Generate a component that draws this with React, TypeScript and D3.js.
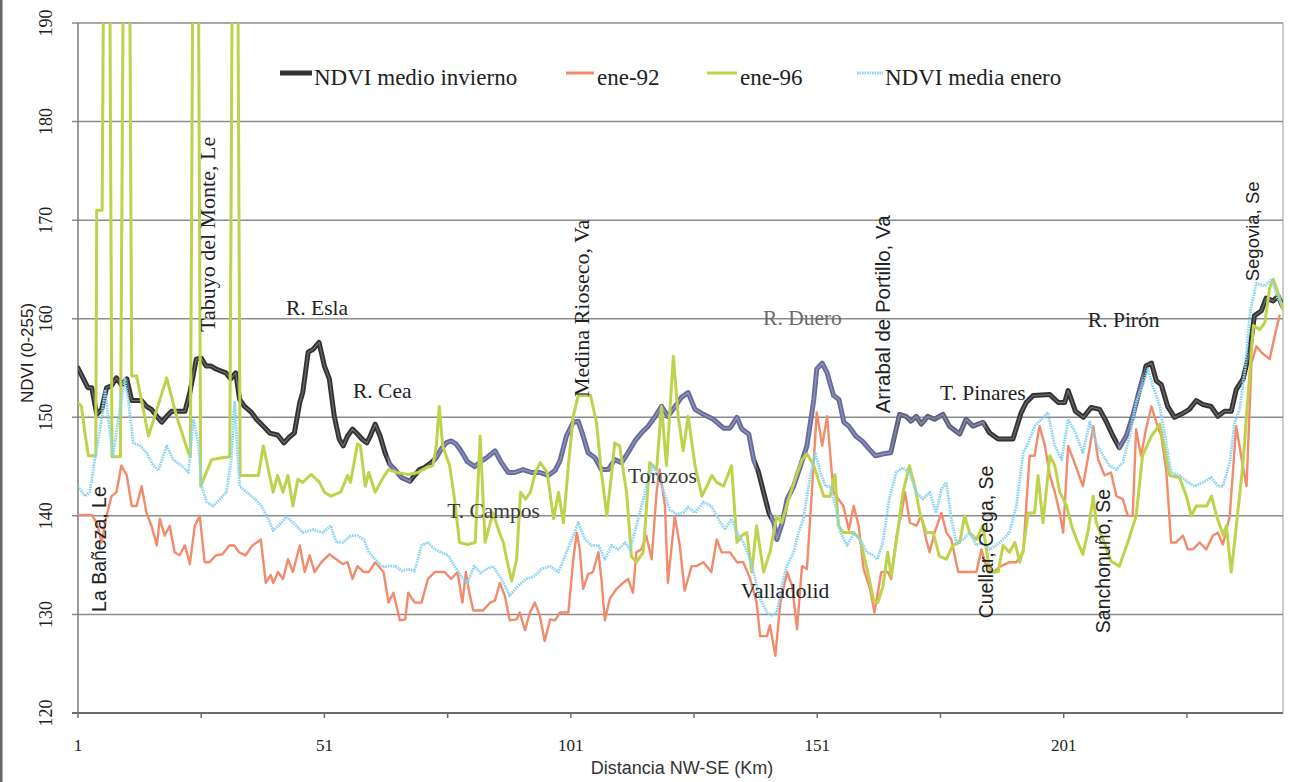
import React from 'react';
import * as d3 from 'd3';

// ---------- DATA (km along the NW-SE transect, NDVI value) ----------
const xTickLabels = [1, 51, 101, 151, 201];
const xTickMarks = [1, 26, 51, 76, 101, 126, 151, 176, 201, 226];
const yTicks = [120, 130, 140, 150, 160, 170, 180, 190];

const seriesNames = ['NDVI medio invierno', 'ene-92', 'ene-96', 'NDVI media enero'];

const medioInvierno: [number, number][] = [
  [1,155],[2,154],[3,153],[3.8,153],[4.8,150.3],[5.8,150.8],[6.8,153],[7.8,153.2],[8.8,154],[9.8,153.3],
  [10.9,153.9],[11.9,151.7],[13.9,151.7],[14.9,151.1],[15.9,150.8],[17,150.1],[18,149.5],[19,150.1],[20,150.6],
  [22.7,150.6],[23.7,152.5],[25,155.9],[26,156],[27,155.2],[28,155.2],[29,154.9],[31,154.5],[32,153.9],[33,154.5],
  [33.8,151.8],[34.8,151.1],[36.2,150.5],[37.2,149.8],[38.6,149.1],[39.9,148.4],[41.5,148.2],[42.8,147.4],
  [43.9,148],[44.9,148.4],[46,151.5],[46.6,152.5],[47.7,156.6],[48.7,156.9],[49.9,157.6],[51,155.2],[52,153.9],
  [53,150.1],[54,147.8],[54.8,147.1],[55.7,148.1],[56.7,148.8],[57.7,148.3],[58.6,147.8],[59.6,147.4],[60.3,148.1],
  [61.3,149.3],[62.3,148.1],[63.3,146.4],[64.3,145.2],[65.3,144.7],[66.6,143.9],[68.3,143.5],[69.3,144.1],
  [70.3,144.7],[71.3,144.9],[72.7,145.4],[73.7,145.9],[74.7,146.8],[75.7,147.4],[76.7,147.6],[77.7,147.3],
  [78.7,146.6],[80,145.5],[81.5,145],[83,145.6],[84.2,146],[85.6,146.6],[86.9,145.4],[88.3,144.4],[89.6,144.4],
  [91.3,144.7],[93,144.4],[94.7,144.4],[96.4,144.1],[97.8,144.6],[98.8,145.6],[100.1,148.1],[101.5,149.5],
  [102.5,149.6],[103.5,148.1],[104.5,146.4],[105.9,145.9],[107.2,144.7],[108.6,144.7],[109.9,145.7],[111.3,145.4],
  [112.6,146.4],[114,147.6],[115.3,148.4],[116.7,149.1],[118,150],[119.4,151.1],[120.7,150.1],[122,151],
  [123.4,152],[124.8,152.5],[126.2,150.8],[127.9,150.3],[129.9,149.8],[132,148.9],[133.3,148.9],[134.7,150],
  [135.7,148.8],[137.1,148.3],[138.1,145.7],[139.1,144.4],[140.1,142.4],[141.2,140.3],[142.2,139.3],[142.8,137.6],
  [143.9,139.3],[144.9,141.7],[146.2,143],[147.6,145.1],[148.9,147.1],[150.3,151.8],[150.9,154.9],[152,155.5],
  [153,154.5],[154.3,152.2],[155.4,151.8],[156.4,149.5],[157.4,149.1],[158.8,148.1],[160.1,147.6],[161.5,146.8],
  [162.8,146.1],[164.5,146.3],[165.9,146.4],[167.7,150.3],[169,150.1],[170,149.6],[171.1,150.1],[172.1,149.3],
  [173.4,150.1],[174.8,149.8],[176.5,150.3],[177.8,149.1],[179.9,148.3],[181.2,149.8],[182.6,149.1],[184.6,149.5],
  [186,148.4],[187.7,147.8],[190.7,147.8],[192.4,150.5],[193.4,151.5],[194.8,152.2],[198.2,152.3],[199.9,151.5],
  [201.2,151.5],[201.9,152.7],[203.4,150.6],[205,150],[206.6,151],[208.3,150.8],[209.6,149.6],[211,148.1],
  [212.3,146.9],[213.7,148.1],[215,150.1],[216.4,152.8],[217.7,155.2],[218.8,155.5],[219.8,153.7],[220.8,153.3],
  [222.1,151.1],[223.5,150],[224.8,150.3],[226.5,150.8],[227.9,151.7],[229.2,151.3],[230.9,151.1],[232.3,150.1],
  [233.6,150.6],[235,150.6],[236,152.8],[237.4,153.9],[238.7,156.6],[239.7,160.3],[241.1,160.8],[242.1,162.1],
  [243.5,161.8],[244.5,162.3],[245.4,161.3],
];

const ene92: [number, number][] = [
  [1,140.1],[3.8,140.1],[4.8,139.3],[5.8,137.3],[6.8,140],[7.8,142],[8.8,142.4],[9.8,145.1],[10.9,144.1],
  [11.9,141],[12.9,141],[13.9,143],[14.9,140.3],[15.9,139],[17,137],[17.6,139.7],[18.6,138],[19.6,139],
  [20.6,136.3],[21.6,136],[22.7,137],[23.7,135.1],[24.7,139],[25.7,140],[26.7,135.3],[27.7,135.3],[29,136],
  [30.3,136.1],[31.7,137],[32.7,137],[33.7,136.3],[35,136],[36.4,137],[38.1,137.6],[39.1,133.2],[40.1,134],
  [40.6,133.2],[41.6,134.3],[42.6,133.6],[43.6,135.6],[44.6,134.3],[46,137],[47,134.3],[48,136],[49,134.3],
  [50.4,135.3],[52,136.1],[53.4,135.6],[54.7,135.1],[55.7,135.3],[56.7,133.6],[57.7,134.9],[59,134.3],[60,134.3],
  [61.3,135.3],[63,134.3],[64,131.2],[65,132.2],[66.3,129.4],[67.4,129.5],[68,132.2],[69.3,131.2],[70.7,131.2],
  [72,133.6],[73.4,134.3],[75.4,134.3],[76.7,133.6],[78,134.3],[79,131.2],[79.7,134.3],[80.4,132.2],[81.2,130.4],
  [83.2,130.4],[84.6,131.2],[85.6,131.4],[86.6,133.2],[87.6,131.9],[88.6,129.4],[90,129.5],[90.6,130.2],
  [91.7,128.4],[92.7,130.2],[93.7,131.2],[94.7,129.9],[95.7,127.3],[96.8,129.5],[97.8,129.4],[98.8,130.2],
  [100.5,130.2],[101.5,135.6],[102.2,138.3],[102.8,136.6],[103.5,132.6],[104.5,134.1],[105.5,134.3],[106.6,136.3],
  [107.2,133.6],[107.9,129.4],[108.9,131.6],[110.3,132.6],[111.6,133.2],[112.6,133.6],[113.6,132.2],[114.3,136.3],
  [115.3,136.6],[116.3,138],[117.4,135.6],[118.4,142.4],[119,144.7],[120.1,141],[120.7,133.2],[122.1,140],
  [123.1,137],[124.1,132.4],[125.5,134.9],[126.5,134.9],[127.9,135.3],[129.5,134.3],[130.6,137.6],[131.6,136.3],
  [133.3,136.3],[134.7,135.3],[136,135.3],[137.4,133.6],[138.7,131.2],[139.4,127.8],[140.8,127.8],[141.4,128.9],
  [142.5,125.8],[143.5,131.2],[144.9,134.3],[145.9,132.9],[146.9,128.5],[147.9,134.9],[148.9,134.6],[149.9,142.4],
  [150.9,150.5],[152,147.1],[153,150.1],[153.6,146.4],[154.3,142.4],[155.3,141.7],[156.3,141],[157.4,138.6],
  [158.4,141],[159.4,139],[160.4,134.6],[161.7,132.6],[162.6,130.2],[164,134.3],[165.3,134.3],[166,133.6],
  [167.1,138],[168.1,140.3],[168.8,142.4],[169.8,139.3],[171.1,139],[172.1,140],[173.1,137.6],[173.8,136.3],
  [174.8,138.3],[176.2,140.3],[177.2,138.3],[178.2,137.6],[179.6,134.3],[183.3,134.3],[184.3,136.6],[185.3,134.9],
  [186.7,134.3],[188.3,134.9],[190,135.3],[191.4,135.3],[192.8,136.3],[193.4,141],[194.1,146.1],[195.1,146.1],
  [196.1,149.1],[197.2,147.1],[198.2,144.1],[199.2,142.4],[200.2,140.3],[200.9,138.3],[201.9,147.1],[203.2,145.4],
  [204.9,143],[206,146.1],[207,149.1],[208,145.7],[209.3,144.1],[210.6,144.4],[211.7,142],[213,141.7],[214,140],
  [215,140],[215.7,148.8],[216.7,146.1],[217.7,148.8],[218.8,151.1],[219.8,149.5],[220.8,148.1],[221.8,144.7],
  [222.8,137.3],[223.8,137.3],[225.2,138],[226.2,136.6],[227.2,136.6],[228.6,137.3],[229.9,136.6],[231.3,138],
  [232.3,138.3],[233.3,137.1],[234.7,140],[236,149.1],[237,146.1],[238.1,143],[239.1,155.5],[240.1,157.2],
  [241.1,156.6],[242.8,155.9],[243.8,158.2],[244.8,160.3],
];

const ene96: [number, number][] = [
  [1,151.5],[1.7,151.1],[2.4,148.4],[3.1,146.1],[4.6,146.1],[4.8,171],[5.9,171],[6.9,255],[7.9,146],[9.6,146],
  [10.9,255],[11.9,154.2],[12.9,154.2],[15.3,148.1],[19,154],[21,150.1],[23.4,146.4],[23.8,146],[24.9,255],
  [25.9,143],[28.1,145.7],[30.2,145.9],[31.8,146],[32.9,255],[33.9,144.1],[37.6,144.1],[38.6,147.1],[40.6,142.4],
  [41.5,144.1],[42.6,142.4],[43.6,144.1],[44.6,141],[45.6,143.7],[46.6,143.4],[48.3,144.2],[50,143.4],[51,142.4],
  [52.3,142],[53.3,142.2],[54.3,142.4],[55.7,144.1],[56.3,143.4],[57.7,147.3],[58.3,147.1],[59.3,143],[60,144.4],
  [61.3,142.4],[62.7,143.7],[64,144.7],[65.7,144.4],[68,144.2],[70,144.4],[71.7,144.9],[73,145.1],[73.7,147.1],
  [74.3,151.1],[75,147.1],[76.4,145.1],[77.4,141.7],[78.4,137.3],[80,137.1],[81.6,137.3],[82.6,148.1],[83.6,137.3],
  [85.2,140.3],[86.3,138.6],[87.3,137.3],[88,135.6],[89,133.4],[90,135.6],[90.8,142.4],[91.8,141.7],[92.8,142.4],
  [93.8,144.4],[94.8,145.4],[96.2,144.4],[97.5,139.7],[98.5,142.4],[99.5,139.3],[100.5,145.1],[101.5,150.1],
  [102.5,152.2],[105,152.2],[106.2,149.5],[107.2,144.4],[108.3,140],[109.3,144.4],[109.9,147.4],[110.9,147.1],
  [112.3,142.4],[113.3,135.9],[114.3,135.3],[115.7,136.3],[117,145.4],[118.4,144.7],[119.4,151.1],[120.4,145.1],
  [121.8,156.2],[122.8,150],[123.8,146.6],[124.8,150.1],[126.2,145.1],[127.6,142],[128.6,143],[129.6,144.1],
  [130.6,143.4],[132,143],[133.6,145.1],[134.7,137.3],[135.7,138],[136.7,138.3],[137.7,134.3],[138.7,139],
  [140.1,134.3],[141.4,136.3],[142.8,140],[143.8,139.3],[145.2,141.7],[146.5,143.7],[147.9,145.7],[148.9,146.3],
  [150.3,145.1],[151.2,143.7],[152.3,142],[153.6,142],[154.6,144.2],[155.3,139],[156.3,138.3],[158.4,138.3],
  [159.7,137.6],[161.1,134.6],[162.5,131.3],[163.3,131.2],[164.3,132.8],[165.3,136.3],[166,133.9],[167.1,137.6],
  [168.4,142.4],[169.7,145.1],[170.8,143],[171.8,140.3],[173.1,138.3],[174.5,138.3],[175.8,135.9],[177.2,135.6],
  [178.5,137],[179.9,137.3],[180.9,140],[181.9,138.3],[183.3,137.6],[184.6,139],[186,134.3],[187.7,134.3],
  [188.7,137],[190,136.3],[191.1,137.3],[192.1,135.3],[192.8,136.6],[193.8,140.3],[195.1,140.3],[195.8,144.1],
  [196.8,139.3],[198.2,146.1],[199.2,145.1],[200.2,142.4],[201.6,141],[202.6,139],[203.6,137.6],[204.9,136.1],
  [206,138.6],[207,142],[207.6,139.3],[209,137.6],[210.6,135.4],[212.3,134.9],[214,137.3],[215.7,140],[217,146.1],
  [218.8,148.1],[220.5,149.3],[221.5,146.8],[222.5,144.1],[224.5,143.9],[225.9,142],[226.9,140],[227.9,141],
  [230,141],[231,142],[232,140],[233.4,138],[234,139],[235,134.3],[236.1,139.3],[237.4,145.4],[238.4,152.2],
  [239.5,159.3],[240.8,158.9],[241.8,159.6],[242.8,163.1],[243.5,164],[244.5,162.6],[245.4,161],
];

const mediaEnero: [number, number][] = [
  [1,143],[2.4,142],[3.4,142.4],[4.4,145.7],[5.8,149.8],[6.5,152.8],[7.1,150.1],[8.1,146.1],[9.5,150.8],
  [10.5,153.9],[11.2,151.8],[12.2,147.4],[13.6,147.1],[14.9,146.4],[16.3,145.1],[17.3,144.6],[19,147.1],
  [20.3,145.7],[22,145.1],[23.4,144.4],[24.4,149.8],[25.4,147.4],[26.1,143],[27.1,141.4],[28.4,141],[29.8,141.7],
  [31.1,142.4],[32.1,145.7],[32.8,151.5],[33.8,143],[35.2,142.4],[36.9,141.7],[38.2,141],[39.6,139.7],[40.6,138.5],
  [41.9,139.1],[43.3,139.9],[45.3,139],[46.6,138.3],[48.6,138.6],[50.7,138.3],[52.3,139],[53.4,137.3],[54.7,137.3],
  [56.4,138],[57.7,138],[59,137.6],[60,136.3],[61.3,135.6],[62.7,134.8],[64,134.9],[65.4,134.9],[66.7,134.4],
  [68,134.6],[69.3,134.4],[70.7,137],[72,137.3],[73.4,136.6],[74.7,136.3],[76.1,136],[77.4,134.9],[78.7,133.9],
  [80,133.2],[81.4,134.9],[82.7,134.2],[83.9,134.6],[85.2,134.9],[86.9,133.6],[88.6,131.9],[90.3,132.9],[92,133.6],
  [93.7,133.9],[95,134.6],[96.8,134.9],[98.5,134.3],[100.1,136.3],[101.5,138],[102.5,139.3],[103.9,137.6],
  [105.2,137],[106.6,137],[107.9,135.6],[109.3,137],[110.6,136.6],[112,137.3],[113,136.6],[114.3,139],[115.7,141.7],
  [116.7,143.7],[117.7,145.1],[118.7,144.1],[119.7,142.7],[121.1,140.6],[122.4,140.2],[123.8,140.3],[124.8,140.9],
  [126.2,140.3],[127.9,141.4],[129.5,141],[130.9,139.7],[132.3,138.6],[133.6,139.7],[134.7,138.3],[136,137.3],
  [137.4,135.6],[138.4,133.6],[139.4,131.6],[140.8,130.2],[141.8,129.9],[142.8,130.2],[143.8,132.9],[144.8,134.9],
  [146.2,136.3],[147.2,138.3],[148.2,139.7],[149.6,144.1],[150.6,146.4],[151.6,144.4],[152.7,143],[153.7,143],
  [154.7,141],[155.7,138.3],[157.1,137],[158.4,138.3],[159.7,137.6],[161.1,136.3],[162.3,136],[163.2,135.6],
  [164.3,137.3],[165.6,141.7],[167,144.4],[168.4,144.9],[169.7,144.4],[171.1,142.4],[172.4,141.7],[173.8,142.4],
  [175.1,140.3],[176.2,142.7],[177.2,143.4],[178.2,139.7],[179.2,137.3],[180.6,137.6],[181.9,138.3],[183.3,137],
  [184.6,137.3],[186,136.6],[187.3,137],[188.7,137.6],[190,138.3],[191.4,141],[192.8,146.4],[193.8,147.4],
  [195.1,149.1],[196.5,149.8],[197.8,150.5],[199.2,147.1],[200.6,145.7],[201.9,149.8],[203.4,148.4],[204.9,146.4],
  [206.3,149.5],[207.6,147.4],[209,146.1],[210.3,145.1],[211.7,144.7],[213,145.4],[214.4,148.1],[215.7,151.5],
  [217,153.2],[218.1,154.9],[219.1,153.2],[220.5,151.1],[221.8,147.4],[222.8,144.4],[224.5,144.1],[226.2,143.4],
  [227.6,143],[229.3,143.4],[230.9,143.9],[232.3,143],[233.3,143],[234.7,145.4],[235.7,149.5],[236.7,150.8],
  [237.8,154.9],[238.8,160.6],[240.1,163.6],[241.8,163.3],[243.2,164],[244.5,162],[245.4,161.5],
];

// place-name annotations: km, NDVI anchor, text
const labelsHorizontal: { km: number; v: number; text: string; color?: string }[] = [
  { km: 43.2, v: 160.4, text: 'R. Esla' },
  { km: 56.8, v: 152.0, text: 'R. Cea' },
  { km: 75.9, v: 139.8, text: 'T. Campos', color: '#3a3a3a' },
  { km: 112.6, v: 143.3, text: 'Torozos', color: '#3a3a3a' },
  { km: 140.0, v: 159.4, text: 'R. Duero', color: '#6a6a6a' },
  { km: 135.5, v: 131.7, text: 'Valladolid' },
  { km: 175.9, v: 151.8, text: 'T. Pinares' },
  { km: 205.9, v: 159.2, text: 'R. Pirón' },
];
const labelsVertical: { km: number; v: number; text: string; sans: boolean; size: number }[] = [
  { km: 5.3, v: 130.25, text: 'La Bañeza, Le', sans: true, size: 19.5 },
  { km: 27.2, v: 158.65, text: 'Tabuyo del Monte, Le', sans: false, size: 22 },
  { km: 103.1, v: 152.05, text: 'Medina Rioseco, Va', sans: false, size: 22 },
  { km: 164.2, v: 150.4, text: 'Arrabal de Portillo, Va', sans: true, size: 20.5 },
  { km: 185.3, v: 129.6, text: 'Cuellar, Cega, Se', sans: true, size: 19.5 },
  { km: 209.0, v: 128.1, text: 'Sanchonuño, Se', sans: true, size: 19.5 },
  { km: 239.4, v: 163.8, text: 'Segovia, Se', sans: true, size: 18.5 },
];

// colour bands of the winter-mean line (the printed line changes tint)
const invBands: [number, number, string][] = [
  [1, 64, '#323232'], [64, 68.5, '#5f6390'], [68.5, 73, '#323232'], [73, 138.5, '#676b9e'],
  [138.5, 141.5, '#323232'], [141.5, 166, '#676b9e'], [166, 185, '#5d6080'], [185, 212, '#323232'],
  [212, 217, '#5f6390'], [217, 246, '#323232'],
];

const SERIF = '"Liberation Serif", "Times New Roman", serif';
const SANS = '"Liberation Sans", Arial, sans-serif';

export default function App() {
  const left = 78, right = 1283, top = 23, bottom = 713;
  const x = d3.scaleLinear().domain([1, 245.5]).range([left, right]);
  const y = d3.scaleLinear().domain([120, 190]).range([bottom, top]);
  const line = d3.line<[number, number]>().x(d => x(d[0])).y(d => y(d[1]));

  const x0 = x(1), x1 = x(245.5);
  const stops: JSX.Element[] = [];
  invBands.forEach(([a, b, c], i) => {
    stops.push(<stop key={`a${i}`} offset={(x(a) - x0) / (x1 - x0)} stopColor={c} />);
    stops.push(<stop key={`b${i}`} offset={(x(Math.min(b, 245.5)) - x0) / (x1 - x0)} stopColor={c} />);
  });

  const colors = ['url(#invGrad)', '#f28b6c', '#bfd24c', '#8ad3f1'];
  const legendX = [
    { s0: 280, s1: 312, t: 314 },
    { s0: 566, s1: 594, t: 597 },
    { s0: 707, s1: 737, t: 740 },
    { s0: 857, s1: 883, t: 885 },
  ];

  return (
    <svg width={1290} height={782} style={{ position: 'absolute', left: 0, top: 0, background: '#fff' }}>
      <defs>
        <clipPath id="plotClip">
          <rect x={left} y={top} width={right - left} height={bottom - top} />
        </clipPath>
        <linearGradient id="invGrad" gradientUnits="userSpaceOnUse" x1={x0} x2={x1} y1={0} y2={0}>
          {stops}
        </linearGradient>
      </defs>
      <rect x={0} y={0} width={1290} height={782} fill="#fff" />
      <rect x={0} y={0} width={2.5} height={782} fill="#666" />

      {/* gridlines */}
      {yTicks.map(t => (
        <line key={t} x1={left - 6} x2={right} y1={y(t)} y2={y(t)}
          stroke={t === 120 ? '#6a6a6a' : '#8c8c8c'} strokeWidth={t === 120 ? 2 : 1.5} />
      ))}
      <line x1={left} x2={left} y1={top} y2={bottom} stroke="#7a7a7a" strokeWidth={1.5} />
      <line x1={right} x2={right} y1={top} y2={bottom} stroke="#9a9a9a" strokeWidth={1} />
      {xTickMarks.map(t => (
        <line key={t} x1={x(t)} x2={x(t)} y1={bottom} y2={bottom + 5} stroke="#6a6a6a" strokeWidth={1.5} />
      ))}

      {/* y tick labels */}
      {yTicks.map(t => (
        <text key={t} transform={`translate(46,${y(t)}) rotate(-90)`} textAnchor="middle"
          dominantBaseline="central" fontFamily={SERIF} fontSize={18} fill="#222">{t}</text>
      ))}
      {/* x tick labels */}
      {xTickLabels.map(t => (
        <text key={t} x={x(t)} y={751} textAnchor="middle" fontFamily={SERIF} fontSize={17} fill="#222">{t}</text>
      ))}
      <text x={682} y={774} textAnchor="middle" fontFamily={SANS} fontSize={18} fill="#333">Distancia NW-SE (Km)</text>
      <text transform="translate(27,353) rotate(-90)" textAnchor="middle" dominantBaseline="central"
        fontFamily={SANS} fontSize={17} fill="#222">NDVI (0-255)</text>

      {/* series */}
      <g clipPath="url(#plotClip)" fill="none" strokeLinejoin="round" strokeLinecap="round">
        <path d={line(medioInvierno) || ''} stroke="url(#invGrad)" strokeWidth={5} />
        <path d={line(medioInvierno) || ''} stroke="#ffffff" strokeOpacity={0.28} strokeWidth={1.3} />
        <path d={line(ene92) || ''} stroke={colors[1]} strokeWidth={2.4} />
        <path d={line(ene96) || ''} stroke={colors[2]} strokeWidth={3} />
        <path d={line(mediaEnero) || ''} stroke={colors[3]} strokeWidth={2.8} strokeDasharray="1.6 0.9" strokeLinecap="butt" />
      </g>

      {/* annotations */}
      {labelsHorizontal.map(l => (
        <text key={l.text} x={x(l.km)} y={y(l.v)} fontFamily={SERIF} fontSize={21.5} fill={l.color || '#222'}>{l.text}</text>
      ))}
      {labelsVertical.map(l => (
        <text key={l.text} transform={`translate(${x(l.km)},${y(l.v)}) rotate(-90)`} dominantBaseline="central"
          fontFamily={l.sans ? SANS : SERIF} fontSize={l.size} fill="#222">{l.text}</text>
      ))}

      {/* legend */}
      {seriesNames.map((name, i) => (
        <g key={name}>
          <line x1={legendX[i].s0} x2={legendX[i].s1} y1={73} y2={73}
            stroke={i === 0 ? '#323232' : colors[i]} strokeWidth={i === 0 ? 5 : 3}
            strokeDasharray={i === 3 ? '1.6 0.9' : undefined} />
          <text x={legendX[i].t} y={85} fontFamily={SERIF} fontSize={23} fill="#222">{name}</text>
        </g>
      ))}
    </svg>
  );
}
